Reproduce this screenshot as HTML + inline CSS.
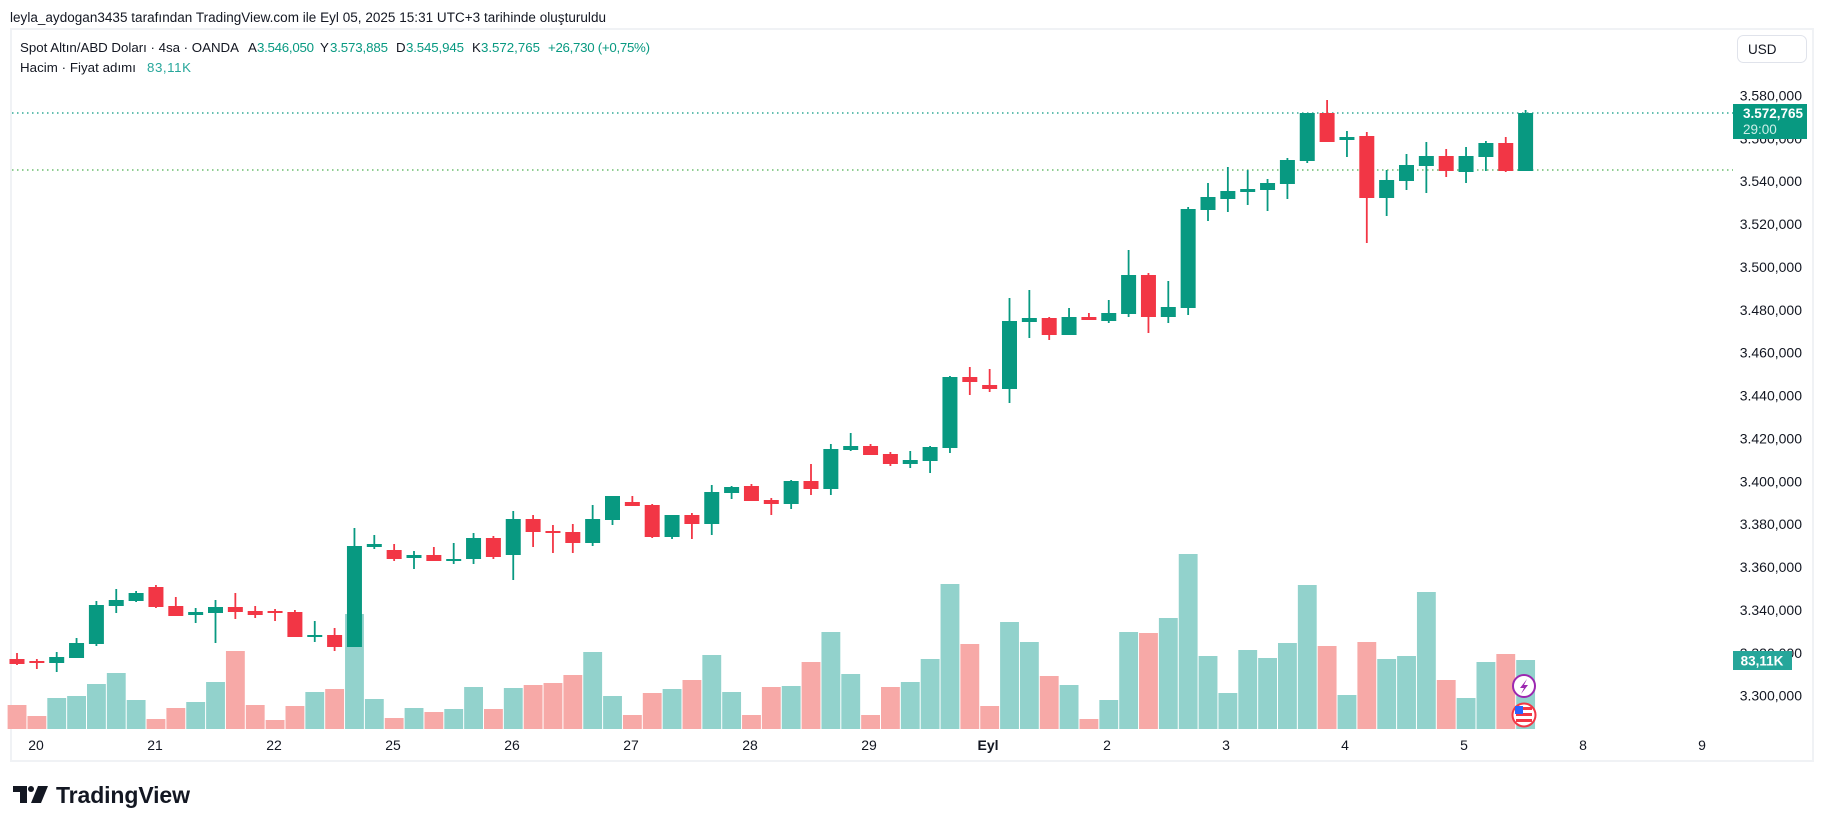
<!DOCTYPE html>
<html><head><meta charset="utf-8"><style>
html,body{margin:0;padding:0;background:#fff;width:1824px;height:829px;overflow:hidden}
svg{display:block}
text{font-family:"Liberation Sans",Arial,sans-serif}
</style></head><body>
<svg id="s" width="1824" height="829" viewBox="0 0 1824 829" xmlns="http://www.w3.org/2000/svg">
<rect width="1824" height="829" fill="#fff"/>
<text x="10" y="22" font-size="13.5" fill="#131722" textLength="596">leyla_aydogan3435 tarafından TradingView.com ile Eyl 05, 2025 15:31 UTC+3 tarihinde oluşturuldu</text>
<rect x="11" y="29" width="1802" height="732" fill="none" stroke="#f0f2f5" stroke-width="2"/>
<g id="vol"></g>
<line x1="12" y1="113" x2="1733" y2="113" stroke="#089981" stroke-width="1.3" stroke-dasharray="1.5,3.5"/>
<line x1="12" y1="170" x2="1733" y2="170" stroke="#4caf50" stroke-width="1.3" stroke-dasharray="1.5,3.5"/>
<g id="cnd"></g>
<g id="px" font-size="14" fill="#131722" text-anchor="end"></g>
<g font-size="14" fill="#131722" text-anchor="middle">
<text x="36" y="750">20</text><text x="155" y="750">21</text><text x="274" y="750">22</text><text x="393" y="750">25</text>
<text x="512" y="750">26</text><text x="631" y="750">27</text><text x="750" y="750">28</text><text x="869" y="750">29</text>
<text x="988" y="750" font-weight="bold">Eyl</text><text x="1107" y="750">2</text><text x="1226" y="750">3</text><text x="1345" y="750">4</text>
<text x="1464" y="750">5</text><text x="1583" y="750">8</text><text x="1702" y="750">9</text>
</g>
<!-- legend -->
<g font-size="13.3">
<text x="20" y="52" fill="#131722" textLength="219">Spot Altın/ABD Doları · 4sa · OANDA</text>
<text x="248" y="52" fill="#131722">A</text><text x="257" y="52" fill="#089981" textLength="57">3.546,050</text>
<text x="320" y="52" fill="#131722">Y</text><text x="330" y="52" fill="#089981" textLength="58">3.573,885</text>
<text x="396" y="52" fill="#131722">D</text><text x="406" y="52" fill="#089981" textLength="58">3.545,945</text>
<text x="472" y="52" fill="#131722">K</text><text x="481" y="52" fill="#089981" textLength="59">3.572,765</text>
<text x="548" y="52" fill="#089981" textLength="102">+26,730 (+0,75%)</text>
<text x="20" y="72" fill="#131722" textLength="116">Hacim · Fiyat adımı</text>
<text x="147" y="72" fill="#26a69a" textLength="44">83,11K</text>
</g>
<rect x="1737.5" y="35.5" width="69" height="27" rx="6" fill="#fff" stroke="#e0e3eb"/>
<text x="1748" y="54" font-size="13.5" fill="#131722">USD</text>
<!-- price tag -->
<rect x="1733" y="104" width="74" height="35" fill="#089981"/>
<text x="1743" y="118" font-size="13.5" font-weight="bold" fill="#fff">3.572,765</text>
<text x="1743" y="134" font-size="13.5" fill="#cdeee8">29:00</text>
<rect x="1733" y="651" width="59" height="19" fill="#26a69a"/>
<text x="1762" y="665.5" font-size="13.5" font-weight="bold" fill="#fff" text-anchor="middle">83,11K</text>
<!-- icons -->
<circle cx="1524" cy="686" r="11" fill="#fff" stroke="#9c27b0" stroke-width="2"/>
<path d="M1527 679 L1520 688 L1524 688 L1521 694 L1528 685 L1524 685 Z" fill="#9c27b0"/>
<circle cx="1524" cy="715" r="11.5" fill="#fff" stroke="#f23645" stroke-width="2"/>
<rect x="1516" y="707" width="16" height="3" fill="#f23645"/><rect x="1516" y="713" width="16" height="3" fill="#f23645"/><rect x="1516" y="719" width="16" height="3" fill="#f23645"/>
<rect x="1515" y="706" width="8" height="8" fill="#2962ff"/>
<!-- logo -->
<path d="M13 786 H27 V803 H20 V792 H13 Z" fill="#131722"/>
<circle cx="31" cy="789" r="3" fill="#131722"/>
<path d="M38 786 H48 L41 803 H31 Z" fill="#131722"/>
<text x="56" y="803" font-size="23" font-weight="bold" fill="#131722" textLength="134">TradingView</text>
</svg>
<script>
var D=[[653,659,664,665,0],[659,661,662,669,0],[652,657,663,672,1],[638,643,658,658,1],[601,605,644,646,1],[589,600,606,613,1],[591,593,601,602,1],[585,587,607,608,0],[597,606,616,616,0],[608,612,615,623,1],[600,607,613,643,1],[593,607,612,619,0],[606,611,615,618,0],[609,611,613,621,0],[610,612,637,637,0],[621,635,636,642,1],[628,635,647,651,0],[528,546,647,647,1],[535,544,547,549,1],[544,550,559,561,0],[551,555,558,569,1],[547,555,561,561,0],[543,559,561,564,1],[533,538,559,564,1],[536,538,557,559,0],[511,519,555,580,1],[515,519,532,547,0],[525,531,533,553,0],[524,532,543,553,0],[505,519,543,546,1],[496,496,520,525,1],[496,502,506,506,0],[504,505,537,538,0],[515,515,537,539,1],[513,515,524,539,0],[485,492,524,535,1],[486,487,493,499,1],[484,486,501,501,0],[498,500,504,515,0],[480,481,504,509,1],[464,481,489,495,0],[444,449,489,495,1],[433,446,450,451,1],[444,446,455,455,0],[452,454,464,466,0],[451,460,464,468,1],[446,447,461,473,1],[376,377,448,453,1],[367,377,382,395,0],[369,385,389,392,0],[298,321,389,403,1],[290,318,322,338,1],[317,318,335,340,0],[308,317,335,335,1],[313,317,320,320,0],[300,313,321,323,1],[250,275,314,317,1],[273,275,317,333,0],[281,307,317,323,1],[207,209,308,315,1],[183,197,210,221,1],[167,191,199,212,1],[170,189,192,205,1],[179,183,190,211,1],[158,160,184,199,1],[113,113,161,163,1],[100,113,142,142,0],[131,137,140,157,1],[132,136,198,243,0],[170,180,198,216,1],[154,165,181,190,1],[142,156,166,193,1],[149,156,171,177,0],[147,156,172,183,1],[141,143,157,171,1],[137,143,171,172,0],[110,113,171,171,1]];
var V=[705,716,698,696,684,673,700,719,708,702,682,651,705,720,706,692,689,614,699,718,708,712,709,687,709,688,685,683,675,652,696,715,693,689,680,655,692,715,687,686,662,632,674,715,687,682,659,584,644,706,622,642,676,685,719,700,632,633,618,554,656,693,650,658,643,585,646,695,642,659,656,592,680,698,662,654,660];
var ns="http://www.w3.org/2000/svg";
function el(p,t,a){var e=document.createElementNS(ns,t);for(var k in a)e.setAttribute(k,a[k]);p.appendChild(e);return e;}
var vg=document.getElementById('vol'),cg=document.getElementById('cnd'),pg=document.getElementById('px');
for(var i=0;i<D.length;i++){var x=17+i*19.85,d=D[i],g=d[4];
 el(vg,'rect',{x:(x-9.4).toFixed(2),y:V[i],width:18.85,height:729-V[i],fill:g?'#92d2cc':'#f7a9a7'});
 var c=g?'#089981':'#f23645';
 el(cg,'rect',{x:(x-0.9).toFixed(2),y:d[0],width:1.8,height:Math.max(d[3]-d[0],1),fill:c});
 el(cg,'rect',{x:(x-7.5).toFixed(2),y:d[1],width:15,height:Math.max(d[2]-d[1],2),fill:c});
}
for(var p=3580;p>=3300;p-=20){var y=95.4+(3580-p)*2.1438;var t=el(pg,'text',{x:1802,y:(y+5).toFixed(1)});t.textContent='3.'+String(p).slice(1)+',000';}
</script>
</body></html>
